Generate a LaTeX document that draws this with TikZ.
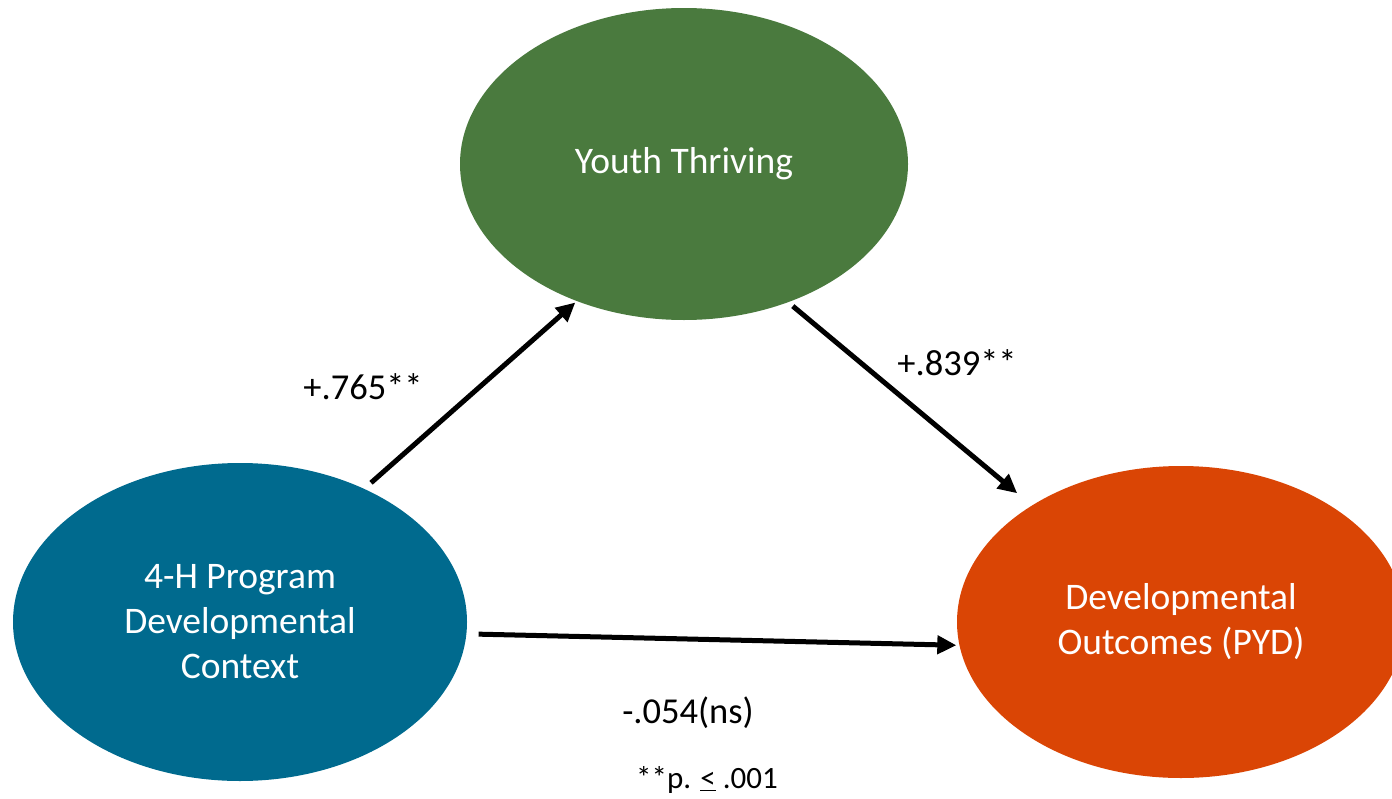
\documentclass[tikz,border=0pt]{standalone}
\usepackage{fontspec}
\setmainfont{Carlito}
\usetikzlibrary{shapes.geometric,arrows.meta}
\definecolor{thrivegreen}{HTML}{4A7A3E}
\definecolor{contextblue}{HTML}{006A8E}
\definecolor{outcomeorange}{HTML}{DA4505}
\tikzset{
  construct/.style={ellipse, inner sep=0pt, text=white, align=center,
    font=\fontsize{37.5}{45}\selectfont},
  path/.style={line width=5pt, -{Triangle[length=19pt,width=18pt]}},
  coef/.style={font=\fontsize{36.5}{44}\selectfont, inner sep=0pt}
}
\begin{document}
\begin{tikzpicture}[x=1pt,y=-1pt]
  \useasboundingbox (0,0) rectangle (1392,798);

  % latent constructs
  \node[construct, fill=thrivegreen, minimum width=448pt, minimum height=312pt]
    (yt) at (684,164) {\raisebox{-3pt}{Youth Thriving}};
  \node[construct, fill=contextblue, minimum width=454pt, minimum height=318pt]
    (ctx) at (240,622) {4-H Program\\Developmental\\Context};
  \node[construct, fill=outcomeorange, minimum width=448pt, minimum height=312pt]
    (pyd) at (1181,622) {Developmental\\Outcomes (PYD)};

  % structural paths
  \draw[path, shorten <=9pt, shorten >=2pt] (ctx.47) -- (yt.232.4);
  \draw[path, shorten <=6pt, shorten >=19pt] (yt.307.1) -- (pyd.142.6);
  \draw[path, shorten <=12pt, shorten >=3pt] (ctx.-3.6) -- (pyd.186.6);

  % path coefficients
  \node[coef] (c1) at (363,387) {+.765**};
  \node[coef] (c2) at (957,363) {+.839**};
  \node[coef] (c3) at (688,713) {-.054(ns)};
  \node[coef, font=\fontsize{31}{38}\selectfont] (note) at (707,780)
    {**p. \underline{<} .001};
\end{tikzpicture}
\end{document}
